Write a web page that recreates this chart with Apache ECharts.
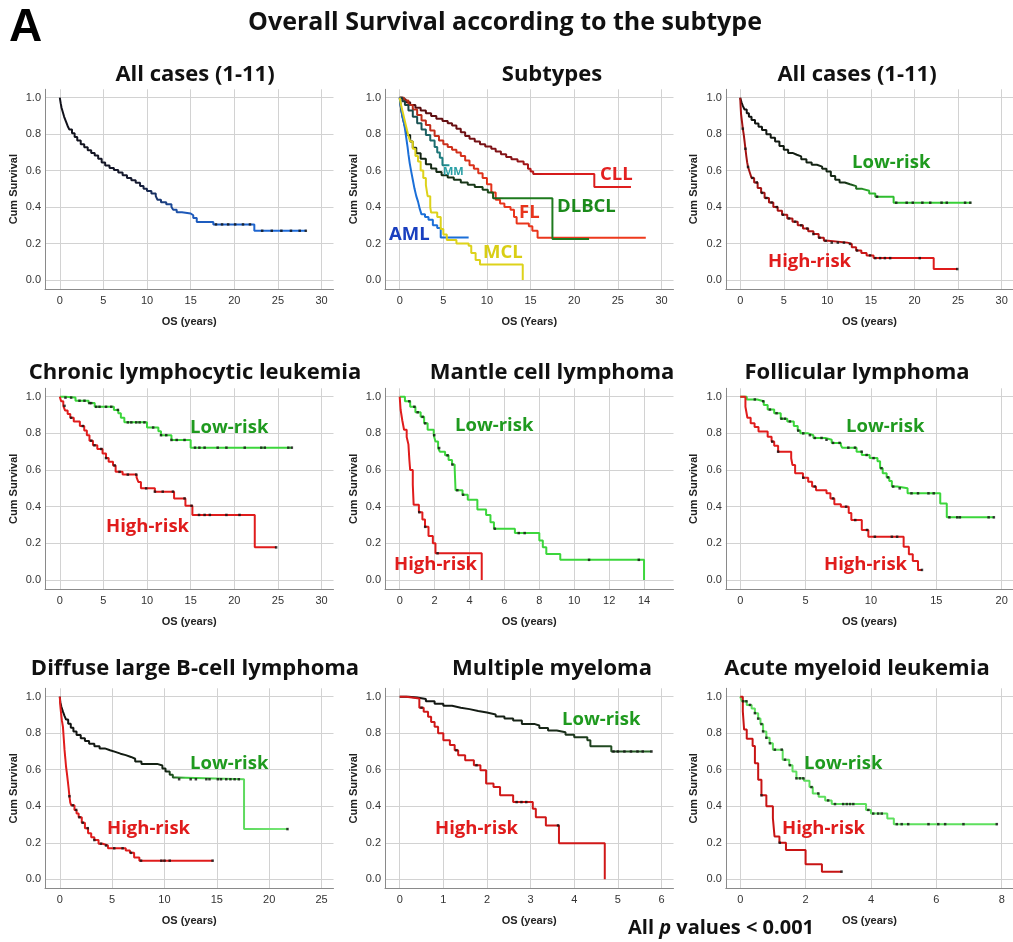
<!DOCTYPE html>
<html>
<head>
<meta charset="utf-8">
<script src="https://cdn.jsdelivr.net/npm/echarts@6/dist/echarts.min.js"></script>
<style>
html, body { margin: 0; padding: 0; background: #fff; }
#main { width: 1013px; height: 942px; }
</style>
</head>
<body>
<div id="main"></div>
<script>
// ---- Kaplan-Meier step points [years, cum survival] ----
var allCases = [[0,1],[0.1,0.97],[0.2,0.945],[0.35,0.92],[0.5,0.895],[0.7,0.87],[0.9,0.845],[1.1,0.825],[1.4,0.805],[1.7,0.785],[2.0,0.765],[2.4,0.745],[2.8,0.728],[3.2,0.712],[3.6,0.697],[4.0,0.683],[4.4,0.665],[4.8,0.645],[5.2,0.628],[5.7,0.615],[6.2,0.603],[6.7,0.59],[7.2,0.575],[7.7,0.56],[8.2,0.547],[8.7,0.533],[9.2,0.515],[9.6,0.5],[10.0,0.488],[10.5,0.475],[11.0,0.46],[11.2,0.44],[11.6,0.427],[12.2,0.415],[12.8,0.4],[13.0,0.385],[13.4,0.372],[14.0,0.365],[15.0,0.355],[15.3,0.34],[15.7,0.318],[17.6,0.305],[22.3,0.27],[28.2,0.27]];
var allCasesCensor = [17.9, 18.6, 19.3, 20.1, 21.0, 21.8, 23.2, 24.3, 25.4, 26.5, 27.5, 28.2];

var subCLL = [[0,1],[0.3,0.99],[0.7,0.975],[1.2,0.96],[1.8,0.945],[2.4,0.93],[3.0,0.915],[3.6,0.9],[4.2,0.885],[4.9,0.872],[5.5,0.86],[6.0,0.848],[6.5,0.83],[7.0,0.81],[7.5,0.79],[8.0,0.775],[8.6,0.76],[9.2,0.745],[9.8,0.732],[10.5,0.72],[11.0,0.705],[11.6,0.69],[12.2,0.675],[12.8,0.663],[13.5,0.65],[14.2,0.635],[14.7,0.61],[15.0,0.595],[15.3,0.582],[22.3,0.51],[26.5,0.51]];
var subFL = [[0,1],[0.5,0.985],[1.0,0.96],[1.5,0.935],[2.0,0.905],[2.5,0.875],[3.0,0.85],[3.5,0.82],[4.0,0.79],[4.5,0.765],[5.0,0.745],[5.5,0.73],[6.0,0.715],[6.5,0.7],[7.0,0.68],[7.5,0.655],[8.0,0.63],[8.5,0.61],[9.0,0.585],[9.5,0.56],[10.0,0.525],[10.5,0.48],[11.0,0.44],[11.5,0.42],[12.0,0.4],[12.7,0.385],[13.1,0.345],[13.4,0.31],[14.8,0.295],[15.2,0.27],[15.8,0.232],[28.2,0.232]];
var subDLBCL = [[0,1],[0.1,0.96],[0.2,0.925],[0.35,0.89],[0.5,0.86],[0.7,0.825],[0.9,0.795],[1.2,0.76],[1.5,0.725],[1.9,0.695],[2.4,0.665],[3.0,0.635],[3.6,0.612],[4.2,0.592],[4.8,0.575],[5.5,0.562],[6.2,0.55],[7.0,0.535],[7.8,0.522],[8.6,0.51],[9.5,0.495],[10.1,0.48],[10.7,0.448],[17.5,0.225],[21.7,0.225]];
var subMM = [[0,1],[0.3,0.98],[0.6,0.96],[1.0,0.93],[1.5,0.895],[2.0,0.86],[2.5,0.825],[3.0,0.795],[3.5,0.765],[4.0,0.73],[4.3,0.7],[4.6,0.67],[4.9,0.63],[5.7,0.63]];
var subAML = [[0,1],[0.1,0.96],[0.2,0.93],[0.3,0.9],[0.45,0.87],[0.6,0.83],[0.75,0.78],[0.9,0.73],[1.0,0.69],[1.15,0.64],[1.3,0.6],[1.5,0.55],[1.7,0.5],[1.9,0.46],[2.1,0.43],[2.3,0.39],[2.5,0.36],[2.9,0.345],[3.3,0.33],[3.8,0.3],[4.3,0.285],[4.7,0.233],[7.9,0.233]];
var subMCL = [[0,1],[0.2,0.95],[0.4,0.91],[0.6,0.87],[0.8,0.83],[1.0,0.79],[1.2,0.76],[1.5,0.72],[1.8,0.68],[2.1,0.65],[2.4,0.6],[2.7,0.56],[3.0,0.52],[3.2,0.46],[3.5,0.4],[3.6,0.37],[4.3,0.345],[4.7,0.28],[5.0,0.25],[5.4,0.22],[6.5,0.2],[7.9,0.188],[8.2,0.148],[8.7,0.11],[9.2,0.085],[14.1,0]];

var allLow = [[0,1],[0.15,0.975],[0.3,0.955],[0.5,0.935],[0.75,0.915],[1.0,0.895],[1.3,0.877],[1.7,0.858],[2.1,0.84],[2.5,0.823],[3.0,0.8],[3.5,0.78],[4.0,0.76],[4.5,0.735],[5.0,0.715],[5.5,0.697],[6.0,0.687],[6.5,0.678],[7.0,0.662],[7.6,0.645],[8.2,0.632],[8.8,0.622],[9.4,0.61],[9.9,0.595],[10.4,0.57],[10.9,0.55],[11.4,0.535],[12.0,0.525],[12.6,0.515],[13.3,0.5],[14.0,0.49],[14.8,0.475],[15.5,0.457],[17.6,0.424],[26.5,0.424]];
var allHigh = [[0,1],[0.05,0.95],[0.1,0.91],[0.2,0.87],[0.3,0.83],[0.4,0.8],[0.5,0.76],[0.6,0.72],[0.7,0.68],[0.8,0.645],[0.9,0.62],[1.1,0.59],[1.3,0.56],[1.6,0.535],[2.0,0.505],[2.4,0.478],[2.8,0.45],[3.3,0.425],[3.8,0.4],[4.3,0.38],[4.8,0.358],[5.4,0.338],[6.0,0.32],[6.6,0.3],[7.2,0.282],[7.8,0.268],[8.4,0.252],[9.0,0.232],[9.6,0.215],[10.1,0.205],[12.3,0.198],[12.8,0.18],[13.3,0.162],[13.9,0.148],[14.5,0.135],[15.3,0.12],[22.2,0.06],[24.9,0.06]];
var allLowCensor = [15.7, 17.9, 19.1, 19.8, 20.9, 21.8, 23.1, 23.7, 25.8, 26.4];
var allHighCensor = [0.3,0.6,0.9,1.4,1.9,2.5,3.0,3.6,4.2,4.9,5.6,6.3,7.0,7.7,8.4,9.1,9.8,10.5,11.2,11.9,12.6,13.4,14.9,15.5,16.05,16.6,17.2,20.6,24.9];

var cllLow = [[0,1],[0.6,0.995],[1.8,0.978],[3.3,0.965],[4.0,0.945],[6.2,0.928],[6.7,0.91],[7.0,0.885],[7.4,0.86],[10.0,0.832],[11.3,0.812],[11.6,0.79],[12.8,0.764],[15.0,0.722],[26.6,0.722]];
var cllHigh = [[0,1],[0.15,0.975],[0.4,0.95],[0.6,0.925],[0.9,0.905],[1.2,0.885],[1.6,0.865],[2.3,0.84],[2.8,0.815],[3.1,0.79],[3.4,0.76],[3.8,0.735],[4.3,0.715],[4.9,0.69],[5.3,0.665],[5.6,0.645],[6.1,0.625],[6.4,0.59],[7.2,0.575],[8.8,0.56],[9.0,0.535],[9.3,0.5],[10.9,0.482],[13.1,0.445],[14.4,0.405],[15.2,0.355],[22.35,0.178],[24.8,0.178]];
var cllLowCensor = [0.65,1.3,2.26,2.83,3.4,3.6,4.17,4.55,5.3,5.9,6.66,7.8,8.2,8.76,9.15,9.7,10.7,11.6,12.2,12.8,13.4,14.3,15.5,16.0,16.6,18.1,19.1,21.2,23.1,23.5,26.2,26.6];
var cllHighCensor = [0.54,1.3,2.64,3.6,3.98,4.75,5.3,6.28,6.85,7.8,8.76,9.9,10.9,11.8,12.97,14.3,15.1,15.96,16.6,17.2,19.1,20.6,24.8];

var mclLow = [[0,1],[0.3,0.975],[0.6,0.945],[0.9,0.915],[1.2,0.89],[1.4,0.855],[1.6,0.82],[1.95,0.79],[2.05,0.755],[2.2,0.72],[2.3,0.7],[2.6,0.68],[2.8,0.655],[3.0,0.63],[3.15,0.608],[3.2,0.49],[3.6,0.465],[3.9,0.438],[4.45,0.385],[4.95,0.355],[5.2,0.315],[5.4,0.28],[6.6,0.256],[8.0,0.215],[8.2,0.178],[8.4,0.142],[9.2,0.11],[14.0,0]];
var mclHigh = [[0,1],[0.05,0.93],[0.15,0.87],[0.25,0.82],[0.4,0.78],[0.5,0.74],[0.55,0.66],[0.6,0.6],[0.75,0.52],[0.8,0.41],[1.1,0.37],[1.3,0.33],[1.45,0.29],[1.65,0.24],[1.9,0.2],[2.05,0.146],[4.7,0]];
var mclLowCensor = [0.55,0.84,1.03,1.31,1.46,1.98,2.26,2.74,3.02,3.3,3.63,5.45,6.82,7.16,10.85,13.7];
var mclHighCensor = [1.12, 1.46, 2.17];

var flLow = [[0,1],[0.5,0.985],[1.3,0.975],[1.8,0.955],[2.1,0.93],[2.6,0.91],[3.1,0.88],[3.6,0.865],[4.1,0.84],[4.4,0.815],[4.6,0.8],[5.2,0.79],[5.6,0.775],[6.5,0.765],[7.0,0.748],[7.7,0.735],[7.8,0.722],[8.9,0.7],[9.3,0.682],[9.9,0.665],[10.5,0.648],[10.7,0.61],[10.9,0.582],[11.2,0.56],[11.4,0.54],[11.6,0.51],[12.0,0.5],[12.8,0.473],[15.3,0.418],[15.8,0.342],[19.4,0.342]];
var flHigh = [[0,1],[0.4,0.945],[0.55,0.885],[0.8,0.855],[1.1,0.835],[1.4,0.81],[2.1,0.782],[2.4,0.755],[2.6,0.733],[2.9,0.7],[3.9,0.664],[4.0,0.627],[4.2,0.582],[4.8,0.558],[5.2,0.536],[5.5,0.51],[5.8,0.49],[6.6,0.473],[6.9,0.445],[7.2,0.413],[7.7,0.4],[8.3,0.365],[8.5,0.327],[9.3,0.273],[9.8,0.236],[12.5,0.182],[12.9,0.14],[13.2,0.104],[13.6,0.055],[13.9,0.055]];
var flLowCensor = [1.12,1.76,2.27,2.78,3.16,3.42,3.8,4.44,4.82,5.33,5.71,6.22,6.6,7.1,7.6,8.27,8.78,9.29,9.67,10.2,10.8,11.3,11.7,12.2,13.1,13.6,14.4,14.8,16.0,16.6,16.8,19.0,19.4];
var flHighCensor = [2.45,2.9,4.82,5.7,7.1,8.1,8.8,9.7,10.3,11.6,12.0,13.9];

var dlbclLow = [[0,1],[0.05,0.97],[0.15,0.945],[0.3,0.918],[0.45,0.895],[0.6,0.875],[0.8,0.852],[1.05,0.83],[1.3,0.81],[1.6,0.79],[2.0,0.772],[2.4,0.757],[2.8,0.743],[3.3,0.728],[3.8,0.717],[4.3,0.707],[4.8,0.698],[5.3,0.688],[5.8,0.68],[6.3,0.67],[6.8,0.66],[7.2,0.645],[7.8,0.632],[9.3,0.623],[9.8,0.607],[10.1,0.59],[10.5,0.572],[10.8,0.558],[11.1,0.548],[17.6,0.275],[21.8,0.275]];
var dlbclHigh = [[0,1],[0.05,0.95],[0.12,0.91],[0.2,0.87],[0.3,0.835],[0.38,0.77],[0.45,0.71],[0.53,0.66],[0.6,0.615],[0.68,0.58],[0.76,0.54],[0.84,0.5],[0.92,0.455],[1.0,0.42],[1.1,0.405],[1.4,0.38],[1.6,0.36],[1.8,0.34],[2.1,0.31],[2.4,0.28],[2.7,0.252],[3.0,0.23],[3.3,0.215],[3.7,0.195],[4.1,0.185],[4.6,0.17],[6.3,0.158],[6.7,0.145],[7.1,0.12],[7.6,0.102],[14.6,0.102]];
var dlbclLowCensor = [11.4,12.5,13.0,14.0,14.3,15.1,15.4,15.9,16.3,16.7,17.1,21.75];
var dlbclHighCensor = [0.92,1.24,1.56,1.88,2.19,2.67,3.3,3.94,4.42,5.2,6.0,6.8,7.76,9.7,10.0,10.5,14.6];

var mmLow = [[0,1],[0.2,0.995],[0.4,0.988],[0.6,0.975],[0.8,0.962],[1.0,0.95],[1.2,0.94],[1.4,0.932],[1.6,0.922],[1.8,0.913],[2.0,0.903],[2.2,0.892],[2.4,0.881],[2.6,0.87],[2.8,0.85],[3.1,0.842],[3.2,0.828],[3.4,0.815],[3.6,0.805],[3.8,0.792],[4.0,0.778],[4.3,0.762],[4.37,0.728],[4.85,0.7],[5.77,0.7]];
var mmHigh = [[0,1],[0.15,0.99],[0.45,0.94],[0.55,0.918],[0.65,0.89],[0.72,0.862],[0.8,0.835],[0.88,0.8],[1.0,0.762],[1.15,0.735],[1.26,0.707],[1.34,0.68],[1.5,0.652],[1.7,0.625],[1.85,0.597],[1.98,0.525],[2.15,0.505],[2.3,0.46],[2.6,0.423],[3.05,0.386],[3.12,0.34],[3.35,0.295],[3.65,0.198],[4.7,0]];
var mmLowCensor = [4.9,5.0,5.15,5.3,5.45,5.57,5.77];
var mmHighCensor = [0.5,1.3,1.76,2.68,2.79,2.9,3.63];

var amlLow = [[0,1],[0.05,0.975],[0.2,0.955],[0.35,0.935],[0.45,0.91],[0.55,0.88],[0.62,0.85],[0.7,0.81],[0.8,0.775],[0.9,0.745],[1.0,0.71],[1.3,0.655],[1.5,0.625],[1.6,0.59],[1.72,0.553],[1.95,0.54],[2.12,0.505],[2.22,0.47],[2.4,0.452],[2.6,0.432],[2.8,0.412],[3.85,0.38],[4.0,0.36],[4.5,0.333],[4.7,0.302],[7.85,0.302]];
var amlHigh = [[0,1],[0.08,0.92],[0.12,0.82],[0.2,0.77],[0.38,0.73],[0.45,0.635],[0.55,0.545],[0.65,0.46],[0.8,0.4],[1.0,0.335],[1.05,0.235],[1.2,0.2],[1.4,0.16],[2.0,0.082],[2.5,0.042],[3.1,0.042]];
var amlLowCensor = [0.09,0.19,0.3,0.45,0.55,0.65,0.7,0.8,0.91,1.06,1.27,1.37,1.52,1.72,1.83,1.93,2.18,2.39,2.69,2.9,3.15,3.26,3.36,3.46,3.92,4.07,4.22,4.33,4.79,4.94,5.14,5.76,6.06,6.27,6.83,7.85];
var amlHighCensor = [0.65, 1.21, 3.1];

// ---- layout (pixels) ----
var cols = [
  { left: 45, right: 333.5, x0: 59.8, xM: 321.5, titleX: 195 },
  { left: 385, right: 673.5, x0: 399.7, xM: 661.5, titleX: 552 },
  { left: 725.8, right: 1013, x0: 740.2, xM: 1001.7, titleX: 857 }
];
var rows = [
  { top: 89.3, bottom: 289.1, y1: 97.7, y0: 280, titleY: 75 },
  { top: 388.3, bottom: 589.2, y1: 396.7, y0: 580, titleY: 373 },
  { top: 688.3, bottom: 888.4, y1: 696.7, y0: 879.3, titleY: 669 }
];

var GREEN = '#3cd63c', RED = '#e01c1c', TXT_GREEN = '#1f9a1f';
function grad(stops) {
  return { type: 'linear', x: 0, y: 0, x2: 1, y2: 0,
    colorStops: stops.map(function (s) { return { offset: s[0], color: s[1] }; }) };
}

var panels = [
  { title: 'All cases (1-11)', xMax: 30, split: 5, step: 5, xName: 'OS (years)',
    curves: [{ data: allCases, censor: allCasesCensor,
      color: grad([[0, '#101018'], [0.32, '#161a30'], [0.5, '#1d58b8'], [1, '#1f6fe0']]) }],
    notes: [] },
  { title: 'Subtypes', xMax: 30, split: 5, step: 5, xName: 'OS (Years)',
    curves: [
      { data: subCLL, color: grad([[0, '#4a0c0e'], [0.5, '#8a1418'], [0.62, '#d41a1a'], [1, '#e02020']]) },
      { data: subFL, color: grad([[0, '#b02a18'], [0.4, '#e8341c'], [1, '#ef3a1c']]) },
      { data: subDLBCL, color: grad([[0, '#101a10'], [0.45, '#1a3e1a'], [0.55, '#1e7a1e'], [1, '#1e7a1e']]) },
      { data: subMM, color: grad([[0, '#1a3434'], [0.7, '#1c6e70'], [1, '#1f9a9e']]) },
      { data: subAML, color: '#1b6fd8' },
      { data: subMCL, color: '#ddd21a' }
    ],
    notes: [
      { text: 'CLL', x: 600, y: 175, color: '#e32020', size: 18.5 },
      { text: 'DLBCL', x: 557, y: 207, color: '#1b8a1b', size: 18.5 },
      { text: 'FL', x: 519, y: 213, color: '#e8341c', size: 18.5 },
      { text: 'AML', x: 389, y: 235, color: '#1a3fbf', size: 18.5 },
      { text: 'MCL', x: 483, y: 253, color: '#d9ce14', size: 18.5 },
      { text: 'MM', x: 443, y: 172, color: '#2aa0a6', size: 11 }
    ] },
  { title: 'All cases (1-11)', xMax: 30, split: 5, step: 5, xName: 'OS (years)',
    curves: [
      { data: allLow, censor: allLowCensor, color: grad([[0, '#111'], [0.45, '#152a15'], [0.56, '#2cb82c'], [1, GREEN]]) },
      { data: allHigh, censor: allHighCensor, color: grad([[0, '#a01212'], [0.5, '#b81414'], [0.62, '#d81818'], [1, RED]]) }
    ],
    notes: [
      { text: 'Low-risk', x: 852, y: 163, color: TXT_GREEN, size: 18.5 },
      { text: 'High-risk', x: 768, y: 262, color: RED, size: 18.5 }
    ] },
  { title: 'Chronic lymphocytic leukemia', xMax: 30, split: 5, step: 5, xName: 'OS (years)',
    curves: [
      { data: cllLow, censor: cllLowCensor, color: GREEN },
      { data: cllHigh, censor: cllHighCensor, color: RED }
    ],
    notes: [
      { text: 'Low-risk', x: 190, y: 428, color: TXT_GREEN, size: 18.5 },
      { text: 'High-risk', x: 106, y: 527, color: RED, size: 18.5 }
    ] },
  { title: 'Mantle cell lymphoma', xMax: 15, split: 8, step: 2, xName: 'OS (years)',
    curves: [
      { data: mclLow, censor: mclLowCensor, color: GREEN },
      { data: mclHigh, censor: mclHighCensor, color: RED }
    ],
    notes: [
      { text: 'Low-risk', x: 455, y: 426, color: TXT_GREEN, size: 18.5 },
      { text: 'High-risk', x: 394, y: 565, color: RED, size: 18.5 }
    ] },
  { title: 'Follicular lymphoma', xMax: 20, split: 5, step: 5, xName: 'OS (years)',
    curves: [
      { data: flLow, censor: flLowCensor, color: GREEN },
      { data: flHigh, censor: flHighCensor, color: RED }
    ],
    notes: [
      { text: 'Low-risk', x: 846, y: 427, color: TXT_GREEN, size: 18.5 },
      { text: 'High-risk', x: 824, y: 565, color: RED, size: 18.5 }
    ] },
  { title: 'Diffuse large B-cell lymphoma', xMax: 25, split: 5, step: 5, xName: 'OS (years)',
    curves: [
      { data: dlbclLow, censor: dlbclLowCensor, color: grad([[0, '#111'], [0.47, '#142414'], [0.55, '#3cc83c'], [1, '#7ae87a']]) },
      { data: dlbclHigh, censor: dlbclHighCensor, color: RED }
    ],
    notes: [
      { text: 'Low-risk', x: 190, y: 764, color: TXT_GREEN, size: 18.5 },
      { text: 'High-risk', x: 107, y: 829, color: RED, size: 18.5 }
    ] },
  { title: 'Multiple myeloma', xMax: 6, split: 5, step: 1, xName: 'OS (years)',
    curves: [
      { data: mmLow, censor: mmLowCensor, color: grad([[0, '#111'], [0.6, '#182818'], [1, '#2a6a2a']]) },
      { data: mmHigh, censor: mmHighCensor, color: '#d01818' }
    ],
    notes: [
      { text: 'Low-risk', x: 562, y: 720, color: TXT_GREEN, size: 18.5 },
      { text: 'High-risk', x: 435, y: 829, color: RED, size: 18.5 }
    ] },
  { title: 'Acute myeloid leukemia', xMax: 8, split: 5, step: 2, xName: 'OS (years)',
    curves: [
      { data: amlLow, censor: amlLowCensor, color: '#5ee05e' },
      { data: amlHigh, censor: amlHighCensor, color: '#c81414' }
    ],
    notes: [
      { text: 'Low-risk', x: 804, y: 764, color: TXT_GREEN, size: 18.5 },
      { text: 'High-risk', x: 782, y: 829, color: RED, size: 18.5 }
    ] }
];

function stepAt(curve, t) {
  var s = curve[0][1];
  for (var i = 0; i < curve.length; i++) if (curve[i][0] <= t) s = curve[i][1];
  return s;
}
function isMultiple(v, step) {
  var r = v / step;
  return Math.abs(r - Math.round(r)) < 1e-6;
}

var TITLE_FONT = 'bold 22px "Open Sans", sans-serif';
var grids = [], xAxes = [], yAxes = [], series = [], graphics = [];

panels.forEach(function (p, i) {
  var c = cols[i % 3], r = rows[Math.floor(i / 3)];
  var pxPerX = (c.xM - c.x0) / p.xMax;
  var pxPerY = r.y0 - r.y1;
  grids.push({ left: c.left, top: r.top, width: c.right - c.left, height: r.bottom - r.top,
    outerBoundsMode: 'none', containLabel: false });
  xAxes.push({
    type: 'value', gridIndex: i,
    min: -(c.x0 - c.left) / pxPerX, max: (c.right - c.x0) / pxPerX,
    splitNumber: p.split,
    name: p.xName, nameLocation: 'middle', nameGap: 27,
    nameTextStyle: { fontFamily: 'Liberation Sans', fontWeight: 'bold', fontSize: 11, color: '#222' },
    axisLine: { show: true, onZero: false, lineStyle: { color: '#8a8a8a', width: 1 } },
    axisTick: { show: false },
    axisLabel: { showMinLabel: false, showMaxLabel: false, margin: 6,
      fontFamily: 'Liberation Sans', fontSize: 11, color: '#333',
      formatter: function (v) { return isMultiple(v, p.step) ? String(Math.round(v)) : ''; } },
    splitLine: { show: true, showMinLine: false, showMaxLine: false, lineStyle: { color: '#d2d2d2', width: 1 } }
  });
  yAxes.push({
    type: 'value', gridIndex: i,
    min: -(r.bottom - r.y0) / pxPerY, max: 1 + (r.y1 - r.top) / pxPerY,
    splitNumber: 5,
    name: 'Cum Survival', nameLocation: 'middle', nameGap: 26, nameRotate: 90,
    nameTextStyle: { fontFamily: 'Liberation Sans', fontWeight: 'bold', fontSize: 11, color: '#222' },
    axisLine: { show: true, onZero: false, lineStyle: { color: '#8a8a8a', width: 1 } },
    axisTick: { show: false },
    axisLabel: { showMinLabel: false, showMaxLabel: false, margin: 4,
      fontFamily: 'Liberation Sans', fontSize: 11, color: '#333',
      formatter: function (v) { return isMultiple(v, 0.2) ? v.toFixed(1) : ''; } },
    splitLine: { show: true, showMinLine: false, showMaxLine: false, lineStyle: { color: '#d2d2d2', width: 1 } }
  });

  p.curves.forEach(function (cv) {
    series.push({
      type: 'line', xAxisIndex: i, yAxisIndex: i, step: 'end',
      data: cv.data, showSymbol: false, symbol: 'none',
      lineStyle: { color: cv.color, width: 2 }, z: 2, silent: true
    });
    if (cv.censor) {
      series.push({
        type: 'scatter', xAxisIndex: i, yAxisIndex: i,
        data: cv.censor.map(function (t) { return [t, stepAt(cv.data, t)]; }),
        symbol: 'rect', symbolSize: [2.5, 2.5],
        itemStyle: { color: '#111' }, z: 3, silent: true
      });
    }
  });

  graphics.push({ type: 'text', x: c.titleX, y: r.titleY, z: 100,
    style: { text: p.title, font: TITLE_FONT, fill: '#111',
      align: 'center', verticalAlign: 'middle', textAlign: 'center', textVerticalAlign: 'middle' } });

  p.notes.forEach(function (n) {
    graphics.push({ type: 'text', x: n.x, y: n.y, z: 100,
      style: { text: n.text, font: 'bold ' + n.size + 'px "Open Sans", sans-serif', fill: n.color,
        align: 'left', verticalAlign: 'middle', textAlign: 'left', textVerticalAlign: 'middle' } });
  });
});

// heading, panel letter and footnote
graphics.push({ type: 'text', x: 9, y: 28, z: 100,
  style: { text: 'A', font: 'bold 46px "Liberation Sans", sans-serif', fill: '#000',
    align: 'left', verticalAlign: 'middle', textAlign: 'left', textVerticalAlign: 'middle' } });
graphics.push({ type: 'text', x: 505, y: 23, z: 100,
  style: { text: 'Overall Survival according to the subtype', font: 'bold 25px "Open Sans", sans-serif', fill: '#111',
    align: 'center', verticalAlign: 'middle', textAlign: 'center', textVerticalAlign: 'middle' } });
graphics.push({ type: 'text', x: 628, y: 928, z: 100,
  style: { text: '{a|All }{p|p}{a| values < 0.001}', fill: '#111',
    align: 'left', verticalAlign: 'middle', textAlign: 'left', textVerticalAlign: 'middle',
    rich: {
      a: { font: 'bold 20px "Open Sans", sans-serif', fill: '#111' },
      p: { font: 'italic bold 20px "Open Sans", sans-serif', fill: '#111' }
    } } });

var chart = echarts.init(document.getElementById('main'));
chart.setOption({
  animation: false,
  backgroundColor: '#fff',
  grid: grids,
  xAxis: xAxes,
  yAxis: yAxes,
  series: series,
  graphic: graphics
});
</script>
</body>
</html>
